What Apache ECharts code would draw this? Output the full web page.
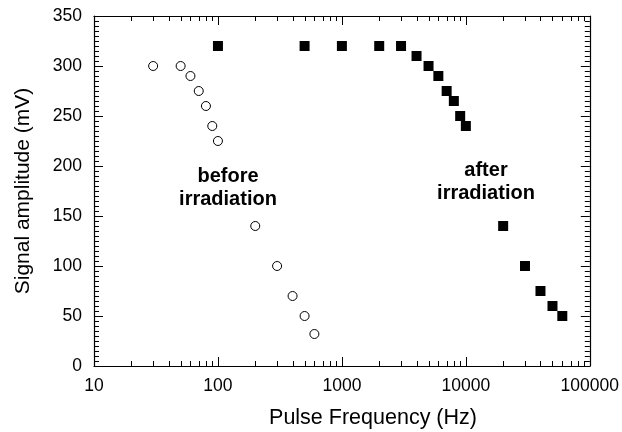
<!DOCTYPE html>
<html>
<head>
<meta charset="utf-8">
<script src="https://cdn.jsdelivr.net/npm/echarts@6/dist/echarts.min.js"></script>
<style>html,body{margin:0;padding:0;background:#fff}#c{width:622px;height:432px}</style>
</head>
<body>
<div id="c"></div>
<script>
// Before irradiation (open circles): [frequency Hz, amplitude mV]
var beforeFreq = [30, 50, 60, 70, 80, 90, 100, 200, 300, 400, 500, 600];
var beforeAmp  = [300, 300, 290, 275, 260, 240, 225, 140, 100, 70, 50, 32];
// After irradiation (filled squares)
var afterFreq = [100, 500, 1000, 2000, 3000, 4000, 5000, 6000, 7000, 8000, 9000, 10000, 20000, 30000, 40000, 50000, 60000];
var afterAmp  = [320, 320, 320, 320, 320, 310, 300, 290, 275, 265, 250, 240, 140, 100, 75, 60, 50];
// Tick labels
var xTickLabels = ['10', '100', '1000', '10000', '100000'];
var yTickLabels = ['0', '50', '100', '150', '200', '250', '300', '350'];
// Minor tick values on the log axis
var xMinorTicks = [];
[10, 100, 1000, 10000].forEach(function (d) {
  for (var k = 2; k <= 9; k++) xMinorTicks.push(k * d);
});

var FONT = '"Liberation Sans", Arial, Helvetica, sans-serif';
var chart = echarts.init(document.getElementById('c'), null, {renderer: 'canvas'});

function zip(a, b) { return a.map(function (v, i) { return [v, b[i]]; }); }

var axisLine = {show: true, onZero: false, lineStyle: {color: '#000', width: 1.2}};
var tickStyle = {color: '#000', width: 1};

chart.setOption({
  animation: false,
  backgroundColor: '#fff',
  grid: {left: 94, right: 31, top: 16, bottom: 66},
  xAxis: [{
    type: 'log', logBase: 10, min: 10, max: 100000, position: 'bottom',
    axisLine: axisLine,
    axisTick: {show: true, inside: true, length: 9, lineStyle: tickStyle},
    axisLabel: {show: true, color: '#000', fontSize: 17.5, fontFamily: FONT, margin: 11,
      formatter: function (v) { var i = Math.round(Math.log10(v)) - 1; return xTickLabels[i] || ''; }},
    splitLine: {show: false}
  }, {
    type: 'log', logBase: 10, min: 10, max: 100000, position: 'top',
    axisLine: axisLine,
    axisTick: {show: true, inside: true, length: 9, lineStyle: tickStyle},
    axisLabel: {show: false}, splitLine: {show: false}
  }],
  yAxis: [{
    type: 'value', min: 0, max: 350, interval: 50, position: 'left',
    axisLine: axisLine,
    axisTick: {show: true, inside: true, length: 9, lineStyle: tickStyle},
    minorTick: {show: true, splitNumber: 10, length: 5, lineStyle: tickStyle},
    axisLabel: {show: true, color: '#000', fontSize: 17.5, fontFamily: FONT, margin: 12,
      formatter: function (v) { return yTickLabels[Math.round(v / 50)]; }},
    splitLine: {show: false}
  }, {
    type: 'value', min: 0, max: 350, interval: 50, position: 'right',
    axisLine: axisLine,
    axisTick: {show: true, inside: true, length: 9, lineStyle: tickStyle},
    minorTick: {show: true, splitNumber: 10, length: 5, lineStyle: tickStyle},
    axisLabel: {show: false}, splitLine: {show: false}
  }],
  graphic: [
    {type: 'text', position: [373, 418], style: {text: 'Pulse Frequency (Hz)', fill: '#000', font: '21.5px ' + FONT, textAlign: 'center', textVerticalAlign: 'middle'}},
    {type: 'text', position: [23, 191], rotation: Math.PI / 2, style: {text: 'Signal amplitude (mV)', fill: '#000', font: '21px ' + FONT, textAlign: 'center', textVerticalAlign: 'middle'}},
    {type: 'text', position: [228, 176], style: {text: 'before', fill: '#000', font: 'bold 20px ' + FONT, textAlign: 'center', textVerticalAlign: 'middle'}},
    {type: 'text', position: [228, 199], style: {text: 'irradiation', fill: '#000', font: 'bold 20px ' + FONT, textAlign: 'center', textVerticalAlign: 'middle'}},
    {type: 'text', position: [486, 170], style: {text: 'after', fill: '#000', font: 'bold 20px ' + FONT, textAlign: 'center', textVerticalAlign: 'middle'}},
    {type: 'text', position: [486, 193], style: {text: 'irradiation', fill: '#000', font: 'bold 20px ' + FONT, textAlign: 'center', textVerticalAlign: 'middle'}}
  ],
  series: [{
    type: 'custom', xAxisIndex: 0, yAxisIndex: 0, silent: true, clip: false,
    data: xMinorTicks.map(function (v) { return [v, 0]; }),
    renderItem: function (params, api) {
      var cs = params.coordSys;
      var x = Math.round(api.coord([api.value(0), 0])[0]) + 0.5;
      var yb = cs.y + cs.height, yt = cs.y;
      return {type: 'group', children: [
        {type: 'line', shape: {x1: x, y1: yb, x2: x, y2: yb - 5}, style: {stroke: '#000', lineWidth: 1}},
        {type: 'line', shape: {x1: x, y1: yt, x2: x, y2: yt + 5}, style: {stroke: '#000', lineWidth: 1}}
      ]};
    }
  }, {
    name: 'before', type: 'scatter', xAxisIndex: 0, yAxisIndex: 0,
    data: zip(beforeFreq, beforeAmp), symbol: 'circle', symbolSize: 9,
    itemStyle: {color: '#fff', borderColor: '#000', borderWidth: 1, opacity: 1}
  }, {
    name: 'after', type: 'scatter', xAxisIndex: 0, yAxisIndex: 0,
    data: zip(afterFreq, afterAmp), symbol: 'rect', symbolSize: 10,
    itemStyle: {color: '#000', opacity: 1}
  }]
});
</script>
</body>
</html>
